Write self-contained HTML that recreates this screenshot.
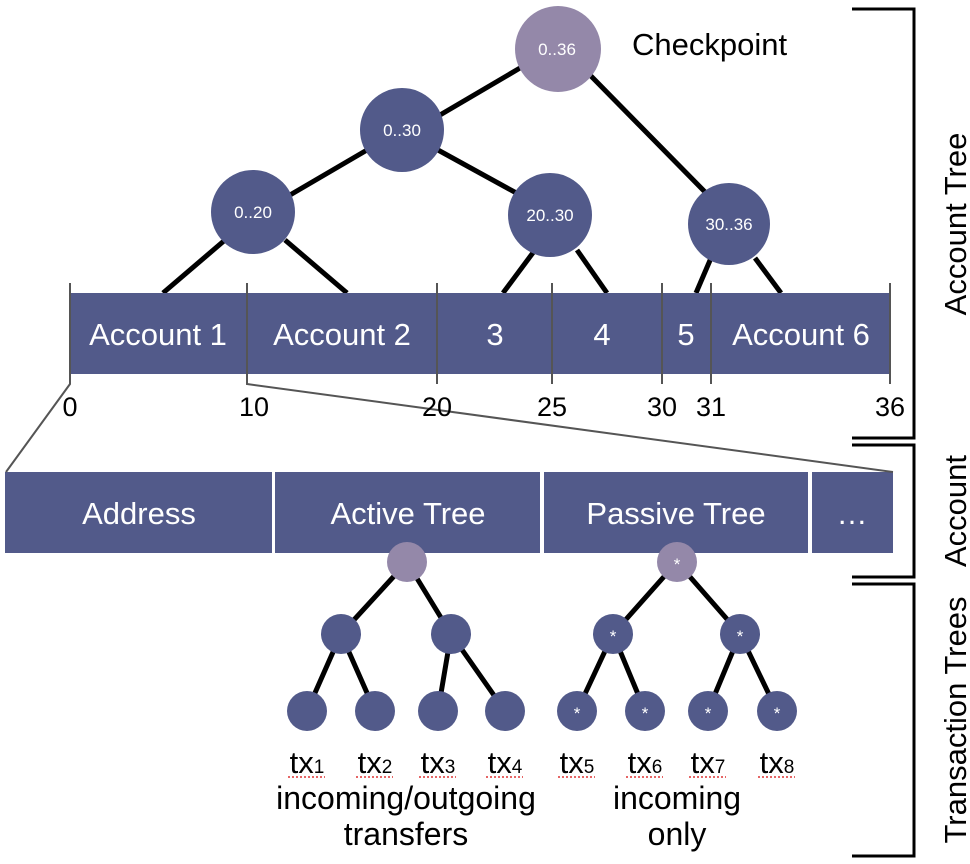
<!DOCTYPE html>
<html><head><style>
body{margin:0;background:#fff}
svg{display:block}
text{font-family:"Liberation Sans",sans-serif}
</style></head><body>
<svg width="970" height="864" viewBox="0 0 970 864">
<g stroke="#000" stroke-width="5" fill="none">
<line x1="520" y1="68" x2="440" y2="115"/>
<line x1="590" y1="75" x2="708" y2="195"/>
<line x1="367" y1="150" x2="290" y2="195"/>
<line x1="438" y1="150" x2="520" y2="195"/>
<line x1="225" y1="240" x2="163" y2="293"/>
<line x1="285" y1="240" x2="347" y2="293"/>
<line x1="535" y1="250" x2="503" y2="293"/>
<line x1="577" y1="250" x2="607" y2="293"/>
<line x1="711" y1="258" x2="696" y2="293"/>
<line x1="755" y1="258" x2="781" y2="293"/>
<path d="M407 562 L341 634 M407 562 L451 634 M341 634 L307 711 M341 634 L375 711 M451 634 L438 711 M451 634 L505 711"/>
<path d="M677 562 L613 634 M677 562 L740 634 M613 634 L577 711 M613 634 L645 711 M740 634 L708 711 M740 634 L777 711"/>
</g>
<g stroke="#000" stroke-width="3" fill="none">
<path d="M852 9 H914 V438 H852"/>
<path d="M852 445 H914 V577 H852"/>
<path d="M852 584 H914 V856 H852"/>
</g>
<circle cx="558" cy="49" r="43" fill="#9488a9"/>
<g fill="#525a8a">
<circle cx="402" cy="130" r="42"/>
<circle cx="253" cy="212" r="42"/>
<circle cx="550" cy="215" r="42"/>
<circle cx="729" cy="224" r="41"/>
<rect x="70" y="293" width="820" height="81"/>
<rect x="5" y="472" width="267" height="81"/>
<rect x="275" y="472" width="265" height="81"/>
<rect x="544" y="472" width="264" height="81"/>
<rect x="812" y="472" width="81" height="81"/>
<circle cx="341" cy="634" r="20"/><circle cx="451" cy="634" r="20"/>
<circle cx="307" cy="711" r="20"/><circle cx="375" cy="711" r="20"/><circle cx="438" cy="711" r="20"/><circle cx="505" cy="711" r="20"/>
<circle cx="613" cy="634" r="20"/><circle cx="740" cy="634" r="20"/>
<circle cx="577" cy="711" r="20"/><circle cx="645" cy="711" r="20"/><circle cx="708" cy="711" r="20"/><circle cx="777" cy="711" r="20"/>
</g>
<circle cx="407" cy="562" r="20" fill="#9488a9"/>
<circle cx="677" cy="562" r="20" fill="#9488a9"/>
<g stroke="#555" stroke-width="2" fill="none">
<path d="M70 283 V384 L6 472"/>
<path d="M247 283 V384 L893 472"/>
<path d="M437 283 V384 M552 283 V384 M662 283 V384 M711 283 V384 M890 283 V384"/>
</g>
<g fill="#fff" font-size="17" text-anchor="middle">
<text x="557" y="55">0..36</text>
<text x="402" y="136">0..30</text>
<text x="253" y="218">0..20</text>
<text x="550" y="221">20..30</text>
<text x="729" y="230">30..36</text>
<text x="677" y="570">*</text><text x="613" y="642">*</text><text x="740" y="642">*</text>
<text x="577" y="719">*</text><text x="645" y="719">*</text><text x="708" y="719">*</text><text x="777" y="719">*</text>
</g>
<g fill="#fff" font-size="31" text-anchor="middle">
<text x="158" y="345">Account 1</text>
<text x="342" y="345">Account 2</text>
<text x="495" y="345">3</text>
<text x="602" y="345">4</text>
<text x="686" y="345">5</text>
<text x="801" y="345">Account 6</text>
<text x="139" y="524">Address</text>
<text x="408" y="524">Active Tree</text>
<text x="676" y="524">Passive Tree</text>
<text x="852" y="524">…</text>
</g>
<g fill="#000" font-size="27" text-anchor="middle">
<text x="70" y="416">0</text><text x="254" y="416">10</text><text x="437" y="416">20</text>
<text x="552" y="416">25</text><text x="662" y="416">30</text><text x="711" y="416">31</text><text x="890" y="416">36</text>
</g>
<text x="632" y="55" font-size="31">Checkpoint</text>
<g fill="#000" font-size="31" text-anchor="middle">
<text x="307" y="773">tx<tspan font-size="19">1</tspan></text>
<text x="375" y="773">tx<tspan font-size="19">2</tspan></text>
<text x="438" y="773">tx<tspan font-size="19">3</tspan></text>
<text x="505" y="773">tx<tspan font-size="19">4</tspan></text>
<text x="577" y="773">tx<tspan font-size="19">5</tspan></text>
<text x="645" y="773">tx<tspan font-size="19">6</tspan></text>
<text x="708" y="773">tx<tspan font-size="19">7</tspan></text>
<text x="777" y="773">tx<tspan font-size="19">8</tspan></text>
</g>
<g fill="#000" font-size="32" text-anchor="middle">
<text x="406" y="809">incoming/outgoing</text>
<text x="406" y="845">transfers</text>
<text x="677" y="809">incoming</text>
<text x="677" y="845">only</text>
</g>
<g stroke="#d33" stroke-width="1.5" stroke-dasharray="2,2">
<path d="M288 777 H325 M356 777 H393 M419 777 H456 M486 777 H523 M558 777 H595 M626 777 H663 M689 777 H726 M758 777 H795"/>
</g>
<g fill="#000" font-size="31" text-anchor="middle">
<text transform="translate(966 224) rotate(-90)">Account Tree</text>
<text transform="translate(966 511) rotate(-90)">Account</text>
<text transform="translate(966 720) rotate(-90)">Transaction Trees</text>
</g>
</svg>
</body></html>
